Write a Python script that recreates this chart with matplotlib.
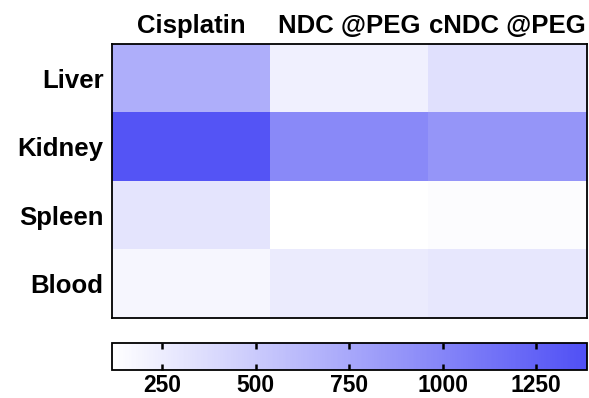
import numpy as np
import matplotlib
matplotlib.use("Agg")
import matplotlib.pyplot as plt
from matplotlib.colors import LinearSegmentedColormap

plt.rcParams['font.family'] = ['Liberation Sans', 'DejaVu Sans']
plt.rcParams['font.weight'] = 'bold'

# Datos del mapa de calor
groups = ['Cisplatin', 'NDC @PEG', 'cNDC @PEG']
organs = ['Liver', 'Kidney', 'Spleen', 'Blood']
liver = [700, 225, 335]
kidney = [1350, 965, 880]
spleen = [310, 120, 140]
blood = [180, 260, 285]
cbar_ticks = [250, 500, 750, 1000, 1250]
vmin, vmax = 116, 1386

values = np.array([liver, kidney, spleen, blood])

cmap = LinearSegmentedColormap.from_list('wb', ['#FFFFFF', '#5050F5'])

fig = plt.figure(figsize=(5.89, 3.98), dpi=100)
ax = fig.add_axes([112/589, 80/398, 475/589, 274/398])
im = ax.imshow(values, cmap=cmap, vmin=vmin, vmax=vmax, aspect='auto')

ax.set_xticks(range(len(groups)))
ax.set_xticklabels(groups, fontsize=18.5, fontweight='bold')
ax.xaxis.tick_top()
ax.set_yticks(range(len(organs)))
ax.set_yticklabels(organs, fontsize=18.5, fontweight='bold')
ax.tick_params(axis='y', length=0, pad=6)
ax.tick_params(axis='x', length=0, pad=4)
for s in ax.spines.values():
    s.set_linewidth(1.3)

cax = fig.add_axes([112/589, 28/398, 475/589, 27/398])
cb = fig.colorbar(im, cax=cax, orientation='horizontal', ticks=cbar_ticks)
cb.ax.tick_params(direction='in', length=4, width=1.8, top=True, bottom=True,
                  labelsize=16.5, pad=3, colors='black')
for lab in cb.ax.get_xticklabels():
    lab.set_fontweight('bold')
cb.outline.set_linewidth(1.3)

fig.savefig('out.png', dpi=100)
